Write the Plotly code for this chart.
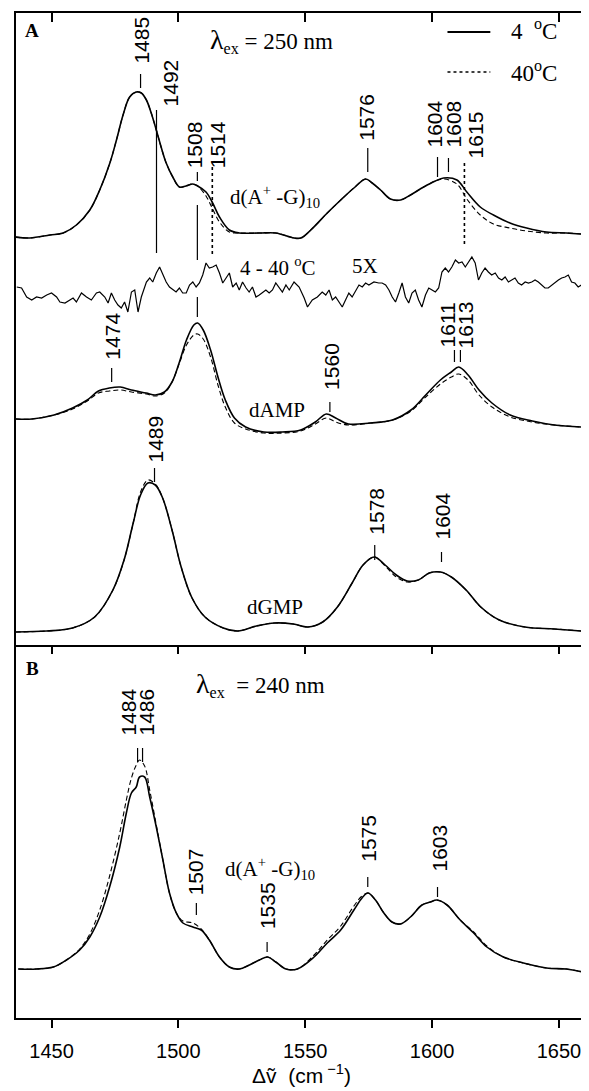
import plotly.graph_objects as go

# ---------------- data ----------------
# Panel A, d(A+-G)10, lambda_ex = 250 nm
dag_a_x = [1435.6, 1441.5, 1449.4, 1454.6, 1459.8, 1465.1, 1469.0, 1473.0, 1475.6, 1478.2,
           1480.8, 1483.4, 1485.4, 1487.4, 1489.3, 1491.3, 1493.2, 1495.2, 1497.8, 1500.4,
           1503.0, 1505.7, 1507.6, 1510.9, 1513.5, 1516.2, 1520.1, 1524.0, 1531.9, 1538.4,
           1545.6, 1548.3, 1552.2, 1558.7, 1564.0, 1569.2, 1573.8, 1576.4, 1579.7, 1583.6,
           1587.6, 1591.5, 1596.7, 1601.3, 1604.6, 1609.8, 1613.7, 1619.0, 1624.2, 1630.7,
           1637.3, 1645.1, 1653.0, 1658.8]
dag_a_4c = [408, 407, 410, 412, 420, 435, 455, 482, 505, 530,
            548, 553, 552, 545, 532, 515, 498, 482, 468, 458,
            459, 461, 459, 453, 442, 428, 415, 412, 412, 412,
            407, 407, 415, 432, 445, 457, 466, 462, 455, 446,
            445, 450, 458, 464, 467, 465, 453, 438, 430, 422,
            417, 413, 412, 411]
dag_a_40c = [408, 407, 410, 412, 420, 435, 455, 482, 505, 530,
             548, 553, 552, 545, 532, 515, 498, 482, 468, 458,
             459, 461, 459, 449, 436, 423, 413, 412, 412, 412,
             407, 407, 415, 432, 445, 457, 466, 462, 455, 446,
             445, 450, 458, 464, 466, 461, 446, 430, 421, 417,
             414, 412, 412, 411]

# Difference spectrum 4 - 40 C (x5)
diff_x = [1436.3, 1438.2, 1440.2, 1442.2, 1444.1, 1446.1, 1448.1, 1450.0, 1452.0, 1453.3,
          1455.3, 1457.2, 1458.5, 1459.8, 1461.8, 1463.8, 1465.7, 1467.7, 1469.0, 1471.0,
          1472.3, 1473.6, 1474.9, 1476.2, 1477.5, 1478.8, 1480.1, 1481.5, 1482.8, 1484.1,
          1485.4, 1487.4, 1488.7, 1489.9, 1491.3, 1492.6, 1493.9, 1495.2, 1496.5, 1497.8,
          1499.1, 1500.4, 1501.7, 1503.1, 1504.4, 1505.7, 1507.0, 1508.3, 1509.6, 1510.9,
          1512.2, 1513.5, 1514.9, 1516.2, 1517.5, 1518.8, 1520.1, 1521.4, 1522.8, 1524.0,
          1525.3, 1526.7, 1527.9, 1529.2, 1530.6, 1531.9, 1533.2, 1534.5, 1535.8, 1537.1,
          1538.4, 1539.7, 1541.0, 1542.4, 1543.7, 1545.6, 1547.6, 1549.6, 1550.9, 1552.8,
          1554.8, 1556.7, 1558.1, 1559.4, 1560.7, 1562.0, 1563.3, 1564.6, 1565.9, 1567.2,
          1568.5, 1569.9, 1571.2, 1572.5, 1573.8, 1575.1, 1577.1, 1579.0, 1580.3, 1581.7,
          1583.0, 1584.3, 1585.6, 1586.9, 1588.2, 1589.5, 1590.8, 1592.1, 1593.4, 1594.7,
          1596.0, 1597.4, 1598.7, 1600.0, 1601.3, 1602.6, 1603.9, 1605.2, 1606.5, 1607.8,
          1609.2, 1610.5, 1611.8, 1613.1, 1614.4, 1615.7, 1617.0, 1618.3, 1619.6, 1620.9,
          1622.2, 1623.5, 1624.9, 1626.2, 1627.5, 1628.8, 1630.1, 1631.4, 1632.7, 1634.0,
          1635.3, 1636.7, 1638.0, 1639.3, 1640.6, 1641.9, 1643.2, 1644.5, 1645.8, 1647.2,
          1648.5, 1649.8, 1651.1, 1652.4, 1653.7, 1655.0, 1656.3, 1657.6, 1658.9]
diff_y = [358, 357, 348, 345, 348, 347, 350, 352, 348, 343,
          342, 345, 347, 343, 352, 348, 345, 352, 353, 348,
          342, 352, 345, 340, 337, 343, 333, 353, 355, 333,
          348, 363, 367, 363, 372, 378, 370, 363, 358, 355,
          353, 357, 352, 352, 360, 363, 358, 362, 370, 382,
          377, 378, 380, 372, 362, 367, 372, 358, 362, 355,
          363, 357, 353, 358, 348, 350, 353, 355, 352, 355,
          362, 357, 353, 360, 355, 363, 358, 347, 338, 345,
          348, 353, 350, 355, 345, 348, 343, 338, 345, 352,
          348, 355, 360, 358, 362, 360, 363, 362, 362, 360,
          355, 348, 343, 352, 362, 348, 342, 352, 355, 345,
          338, 350, 357, 355, 353, 357, 373, 377, 373, 378,
          385, 382, 383, 378, 383, 388, 382, 365, 372, 377,
          373, 370, 372, 367, 365, 368, 363, 365, 367, 362,
          360, 363, 362, 363, 365, 363, 360, 357, 357, 360,
          362, 365, 367, 368, 370, 363, 362, 358, 360]

# dAMP
damp_x = [1435.8, 1442.3, 1451.0, 1458.3, 1464.1, 1468.5, 1472.8, 1477.1, 1481.5, 1487.3,
          1490.9, 1494.5, 1497.5, 1500.3, 1503.2, 1506.1, 1507.6, 1509.8, 1512.7, 1515.6,
          1518.5, 1522.1, 1526.5, 1533.7, 1540.9, 1548.2, 1554.0, 1558.3, 1562.0, 1567.0,
          1575.7, 1584.4, 1591.7, 1597.5, 1603.3, 1607.6, 1610.5, 1614.2, 1618.5, 1623.6,
          1630.8, 1639.5, 1648.2, 1659.1]
damp_4c = [226, 226, 230, 237, 245, 254, 257, 258, 255, 252,
           250, 253, 263, 282, 305, 320, 322, 315, 295, 268,
           245, 227, 218, 213, 213, 215, 223, 231, 227, 221,
           222, 225, 235, 250, 265, 273, 278, 270, 255, 242,
           230, 224, 220, 218]
damp_40c = [226, 226, 230, 236, 244, 252, 254, 255, 253, 251,
            249, 252, 263, 281, 300, 310, 311, 306, 288, 260,
            238, 222, 216, 212, 212, 214, 221, 227, 223, 220,
            222, 225, 234, 248, 261, 268, 271, 265, 250, 238,
            228, 223, 220, 218]

# dGMP
dgmp_x = [1435.8, 1448.1, 1458.3, 1467.0, 1474.2, 1478.6, 1482.2, 1485.1, 1488.0, 1490.9,
          1493.8, 1497.5, 1501.1, 1505.4, 1510.5, 1517.7, 1523.5, 1530.8, 1538.0, 1545.3,
          1551.1, 1556.9, 1562.7, 1568.5, 1572.8, 1577.2, 1581.5, 1585.9, 1590.2, 1594.6,
          1598.9, 1603.3, 1607.6, 1613.4, 1619.2, 1626.5, 1636.6, 1648.2, 1659.1]
dgmp_4c = [13, 14, 17, 28, 55, 85, 122, 150, 162, 160,
           147, 115, 78, 47, 28, 17, 14, 19, 22, 21,
           18, 23, 38, 62, 80, 88, 80, 70, 64, 65,
           72, 73, 68, 55, 38, 25, 18, 16, 14]
dgmp_40c = [13, 14, 17, 28, 55, 85, 122, 153, 165, 161,
            147, 115, 78, 47, 28, 17, 14, 19, 22, 21,
            18, 23, 38, 62, 80, 88, 79, 68, 63, 65,
            72, 73, 68, 55, 38, 25, 18, 16, 14]

# Panel B, d(A+-G)10, lambda_ex = 240 nm
dag_b_x = [1436.9, 1444.1, 1450.7, 1455.9, 1461.1, 1465.1, 1469.0, 1472.9, 1476.9, 1479.5,
           1481.5, 1483.4, 1484.7, 1486.7, 1488.7, 1491.3, 1493.9, 1496.5, 1499.2, 1501.8,
           1505.7, 1509.0, 1512.2, 1516.2, 1520.1, 1524.0, 1528.0, 1531.9, 1535.2, 1538.4,
           1542.4, 1546.9, 1553.5, 1558.7, 1564.0, 1569.2, 1572.4, 1574.7, 1577.7, 1581.0,
           1584.2, 1587.5, 1591.5, 1596.0, 1599.3, 1601.9, 1605.9, 1611.1, 1616.4, 1621.6,
           1628.1, 1636.0, 1645.1, 1653.0, 1659.5]
dag_b_4c = [49, 49, 51, 58, 68, 81, 101, 131, 171, 205,
            225, 231, 241, 241, 221, 191, 158, 125, 105, 95,
            91, 88, 78, 61, 51, 49, 53, 58, 61, 56,
            49, 49, 61, 75, 88, 108, 120, 125, 118, 105,
            96, 94, 101, 113, 116, 118, 113, 98, 85, 71,
            61, 55, 50, 49, 46]
dag_b_40c = [49, 49, 51, 58, 69, 84, 108, 142, 185, 218,
             240, 253, 258, 252, 228, 193, 158, 125, 105, 97,
             95, 89, 78, 61, 51, 49, 53, 58, 61, 56,
             49, 49, 63, 78, 92, 112, 122, 125, 118, 105,
             96, 94, 101, 113, 116, 118, 113, 98, 86, 72,
             61, 55, 50, 49, 46]

tick_vals = [1450, 1500, 1550, 1600, 1650]
x_range = [1436, 1659.5]

# peak labels
peaks_a = ["1485", "1492", "1508", "1514", "1576", "1604", "1608", "1615"]
peaks_damp = ["1474", "1560", "1611", "1613"]
peaks_dgmp = ["1489", "1578", "1604"]
peaks_b = ["1484", "1486", "1507", "1535", "1575", "1603"]

# ---------------- layout geometry (reference pixels) ----------------
PAGE_W, PAGE_H = 589, 1091
OFF = 8                       # default page margin around the plot div
FL, FR, FT, FB = 16, 585, 13, 1018   # frame edges in page pixels
DIV = 645                     # pixel row of the panel divider
W, H = PAGE_W - OFF, PAGE_H - OFF
ML, MR, MT, MB = FL - OFF, W + OFF - FR, FT - OFF, H + OFF - FB
PW = FR - FL
PH = FB - FT
HA = DIV - FT
HB = FB - DIV
splitfrac = HB / PH

SANS = "Liberation Sans, Arial, sans-serif"
SERIF = "Liberation Serif, Times New Roman, serif"


def px_x(px):
    return x_range[0] + (px - FL) * (x_range[1] - x_range[0]) / PW


def pa(py):
    return DIV - py


def pb(py):
    return FB - py


def paper_x(px):
    return (px - FL) / PW


def paper_y(py):
    return (FB - py) / PH


fig = go.Figure()

solid = dict(color="black", width=1.6)
dashed = dict(color="black", width=1.1, dash="5px,3px")

for xs, y4, y40 in [(dag_a_x, dag_a_4c, dag_a_40c), (damp_x, damp_4c, damp_40c),
                    (dgmp_x, dgmp_4c, dgmp_40c)]:
    fig.add_trace(go.Scatter(x=xs, y=y40, mode="lines", line=dashed, line_shape="spline",
                             xaxis="x2", yaxis="y2", showlegend=False, hoverinfo="skip"))
    fig.add_trace(go.Scatter(x=xs, y=y4, mode="lines", line=solid, line_shape="spline",
                             xaxis="x2", yaxis="y2", showlegend=False, hoverinfo="skip"))

fig.add_trace(go.Scatter(x=diff_x, y=diff_y, mode="lines", line=dict(color="black", width=1.2),
                         xaxis="x2", yaxis="y2", showlegend=False, hoverinfo="skip"))

fig.add_trace(go.Scatter(x=dag_b_x, y=dag_b_40c, mode="lines", line=dashed, line_shape="spline",
                         xaxis="x", yaxis="y", showlegend=False, hoverinfo="skip"))
fig.add_trace(go.Scatter(x=dag_b_x, y=dag_b_4c, mode="lines", line=solid, line_shape="spline",
                         xaxis="x", yaxis="y", showlegend=False, hoverinfo="skip"))

# helper trace for the divider tick axis
fig.add_trace(go.Scatter(x=[tick_vals[0]], y=[-50], mode="lines", xaxis="x3", yaxis="y2",
                         showlegend=False, hoverinfo="skip"))

shapes = []
annotations = []


def vline(px, y0, y1, panel, dash=None, width=1.2):
    ref = "y2" if panel == "A" else "y"
    f = pa if panel == "A" else pb
    ln = dict(color="black", width=width)
    if dash:
        ln["dash"] = dash
    shapes.append(dict(type="line", xref="x2" if panel == "A" else "x", yref=ref,
                       x0=px_x(px), x1=px_x(px), y0=f(y0), y1=f(y1), line=ln))


def plabel(text, px, py, panel):
    ref = "y2" if panel == "A" else "y"
    f = pa if panel == "A" else pb
    annotations.append(dict(text=text, x=px_x(px), y=f(py), xref="x2" if panel == "A" else "x",
                            yref=ref, textangle=-90, showarrow=False, xanchor="center",
                            yanchor="middle", font=dict(family=SANS, size=21, color="black")))


# panel A peak labels: (text x, text y, tick segments)
lab_a = [
    (141, 40, [(141, 74, 88, None)]),
    (171, 83, [(157, 110, 253, None)]),
    (195, 145, [(198, 172, 181, None), (198, 205, 260, None), (198, 297, 317, None)]),
    (218, 145, [(213, 167, 255, "dot")]),
    (367, 117, [(369, 148, 172, None)]),
    (435, 124, [(439, 157, 177, None)]),
    (455, 124, [(450, 158, 172, None)]),
    (477, 135, [(466, 163, 247, "dot")]),
]
for t, (tx, ty, segs) in zip(peaks_a, lab_a):
    plabel(t, tx, ty, "A")
    for sx, y0, y1, d in segs:
        vline(sx, y0, y1, "A", dash=d, width=1.2 if d is None else 1.6)

lab_damp = [(112, 336, (112, 368, 382)), (332, 366, (331, 402, 412)),
            (449, 325, (456, 350, 362)), (467, 325, (462, 350, 362))]
for t, (tx, ty, (sx, y0, y1)) in zip(peaks_damp, lab_damp):
    plabel(t, tx, ty, "A")
    vline(sx, y0, y1, "A")

lab_dgmp = [(155, 439, (155, 468, 482)), (377, 511, (376, 545, 560)), (443, 516, (443, 552, 562))]
for t, (tx, ty, (sx, y0, y1)) in zip(peaks_dgmp, lab_dgmp):
    plabel(t, tx, ty, "A")
    vline(sx, y0, y1, "A")

lab_b = [(128, 712, (138, 748, 762)), (146, 712, (143, 748, 762)),
         (196, 872, (197, 903, 915)), (268, 906, (268, 942, 952)),
         (369, 838, (369, 877, 887)), (440, 848, (439, 887, 897))]
for t, (tx, ty, (sx, y0, y1)) in zip(peaks_b, lab_b):
    plabel(t, tx, ty, "B")
    vline(sx, y0, y1, "B")


def text(t, px, py, size=21, family=SERIF, xanchor="center", bold=False):
    if bold:
        t = "<b>" + t + "</b>"
    annotations.append(dict(text=t, x=paper_x(px), y=paper_y(py), xref="paper", yref="paper",
                            showarrow=False, xanchor=xanchor, yanchor="middle",
                            font=dict(family=family, size=size, color="black")))


text("A", 23, 31, size=19, xanchor="left", bold=True)
text("<span style='font-size:28px'>λ</span><sub>ex</sub> = 250 nm", 209, 40, size=23, xanchor="left")
text("4  <sup>o</sup>C", 511, 30, size=23, xanchor="left")
text("40<sup>o</sup>C", 511, 71, size=23, xanchor="left")
text("d(A<sup>+</sup> -G)<sub>10</sub>", 229, 196, xanchor="left")
text("4 - 40 <sup>o</sup>C", 239, 266, xanchor="left")
text("5X", 351, 266, xanchor="left")
text("dAMP", 278, 410)
text("dGMP", 276, 607)
text("B", 24, 668, size=19, xanchor="left", bold=True)
text("<span style='font-size:28px'>λ</span><sub>ex</sub>  = 240 nm", 195, 684, size=23, xanchor="left")
text("d(A<sup>+</sup> -G)<sub>10</sub>", 224, 868, xanchor="left")
text("Δṽ  (cm<sup> −1</sup>)", 303, 1074, size=21, family=SANS)

# legend lines
shapes.append(dict(type="line", xref="paper", yref="paper", x0=paper_x(449), x1=paper_x(492),
                   y0=paper_y(32), y1=paper_y(32), line=dict(color="black", width=2)))
shapes.append(dict(type="line", xref="paper", yref="paper", x0=paper_x(449), x1=paper_x(492),
                   y0=paper_y(72), y1=paper_y(72), line=dict(color="black", width=1.6, dash="dot")))

axis_common = dict(showgrid=False, zeroline=False, showline=True, linecolor="black",
                   linewidth=2, range=x_range, tickvals=tick_vals, tickcolor="black",
                   tickwidth=1.5)

fig.update_layout(
    width=W, height=H,
    margin=dict(l=ML, r=MR, t=MT, b=MB, pad=0),
    paper_bgcolor="white", plot_bgcolor="white",
    showlegend=False,
    xaxis=dict(**axis_common, anchor="y", domain=[0, 1], ticks="outside", ticklen=8,
               showticklabels=True, ticklabelstandoff=6,
               tickfont=dict(family=SANS, size=20, color="black")),
    xaxis2=dict(**axis_common, anchor="y2", matches="x", side="top", ticks="inside",
                ticklen=9, showticklabels=False),
    xaxis3=dict(**axis_common, anchor="y2", overlaying="x2", matches="x", side="bottom",
                ticks="outside", ticklen=7, showticklabels=False),
    yaxis=dict(domain=[0, splitfrac], range=[0, HB], showgrid=False, zeroline=False,
               showline=True, mirror=True, linecolor="black", linewidth=2,
               showticklabels=False, ticks=""),
    yaxis2=dict(domain=[splitfrac, 1], range=[0, HA], showgrid=False, zeroline=False,
                showline=True, mirror=True, linecolor="black", linewidth=2,
                showticklabels=False, ticks=""),
    shapes=shapes,
    annotations=annotations,
)

fig.write_html("out.html")
